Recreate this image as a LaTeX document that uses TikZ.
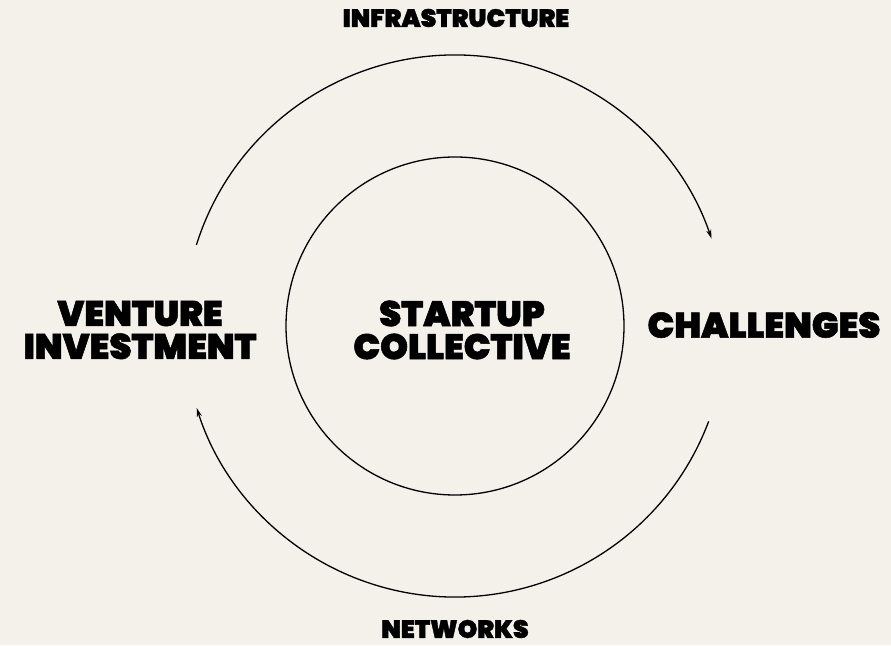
\documentclass[tikz,border=0pt]{standalone}
\usepackage{fontspec}
\setmainfont{Poppins}
\newfontfamily\heavy{Poppins Black}[FakeBold=1.4]
\usepackage{tikz}
\usetikzlibrary{arrows.meta,calc}
\definecolor{paper}{HTML}{F4F1EB}

\begin{document}
\begin{tikzpicture}
[x=1pt, y=1pt,
 every node/.style={anchor=center, align=center, inner sep=0pt},
 big/.style={font=\heavy\fontsize{35.5}{33}\selectfont},
 small/.style={font=\heavy\fontsize{25}{25}\selectfont},
 loop/.style={line width=1.3pt, -{Stealth[length=9pt, width=5pt]}}]
% Page and centre
\fill[paper] (0,0) rectangle (891,645);
\coordinate (c) at (455,319);

% Inner circle with the title
\draw[line width=1.3pt] (c) circle[radius=169];
\node[big] (startup) at (462,315) {STARTUP\\COLLECTIVE};

% Labels round the ring
\node[small] (infra) at (456,627) {INFRASTRUCTURE};
\node[small] (net) at (455,16) {NETWORKS};
\node[big] (venture) at (140,315) {VENTURE\\INVESTMENT};
\node[big] (chall) at (764,320) {CHALLENGES};

% Ends of the two arcs
\coordinate (a0) at ($(c)+(162.6:271)$);
\coordinate (a1) at ($(c)+(-20.6:271)$);

\draw[loop] (a0) arc[start angle=162.6, end angle=18.8, radius=271];
\draw[loop] (a1) arc[start angle=-20.6, end angle=-162.4, radius=271];
\end{tikzpicture}
\end{document}
